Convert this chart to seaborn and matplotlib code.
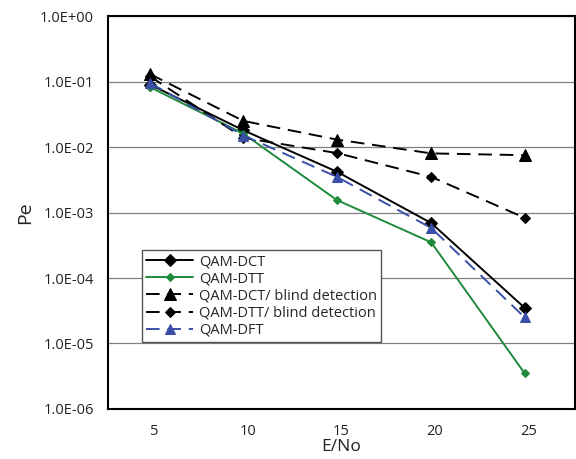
import seaborn as sns
import pandas as pd
import matplotlib.pyplot as plt
from matplotlib.ticker import FixedLocator, NullLocator

sns.set_style('white')
plt.rcParams['font.family'] = ['Open Sans', 'DejaVu Sans']

# E/No points (Excel scatter, slightly left of the ticks)
e_no = [4.75, 9.75, 14.75, 19.8, 24.8]

qam_dct = [0.09, 0.018, 0.0042, 0.00069, 3.5e-5]
qam_dtt = [0.082, 0.016, 0.00155, 0.00035, 3.5e-6]
qam_dct_blind = [0.13, 0.025, 0.013, 0.008, 0.0075]
qam_dtt_blind = [0.12, 0.0138, 0.0081, 0.0035, 0.00083]
qam_dft = [0.095, 0.015, 0.0035, 0.00058, 2.5e-5]

y_ticks = [1e0, 1e-1, 1e-2, 1e-3, 1e-4, 1e-5, 1e-6]
y_labels = ['1.0E+00', '1.0E-01', '1.0E-02', '1.0E-03', '1.0E-04', '1.0E-05', '1.0E-06']
x_ticks = [5, 10, 15, 20, 25]

fig = plt.figure(figsize=(5.76, 4.59), dpi=100)
ax = fig.add_axes([0.1875, 0.109, 0.811, 0.856])

dash = (0, (7, 4))
series = [
    ('QAM-DCT', qam_dct, 'black', '-', 'D', 6),
    ('QAM-DTT', qam_dtt, '#1e8a3a', '-', 'D', 4.5),
    ('QAM-DCT/ blind detection', qam_dct_blind, 'black', dash, '^', 8),
    ('QAM-DTT/ blind detection', qam_dtt_blind, 'black', dash, 'D', 5),
    ('QAM-DFT', qam_dft, '#3a4fa8', dash, '^', 7),
]

for name, vals, color, ls, mk, ms in series:
    df = pd.DataFrame({'E/No': e_no, 'Pe': vals})
    sns.lineplot(data=df, x='E/No', y='Pe', ax=ax, color=color,
                 linestyle=ls, marker=mk, markersize=ms, linewidth=1.4,
                 markeredgecolor=color, label=name)

ax.set_yscale('log')
ax.set_ylim(1e-6, 1e0)
ax.set_xlim(2.5, 27.5)
ax.yaxis.set_major_locator(FixedLocator(y_ticks))
ax.yaxis.set_minor_locator(NullLocator())
ax.set_yticks(y_ticks, y_labels)
ax.set_xticks(x_ticks)
ax.grid(axis='y', color='#808080', linewidth=0.9)
ax.grid(axis='x', visible=False)

for side in ['left', 'bottom', 'top', 'right']:
    ax.spines[side].set_color('black')
    ax.spines[side].set_linewidth(1.5)

ax.tick_params(axis='both', which='major', direction='out', length=4,
               width=1, color='#444444', labelsize=10.5, labelcolor='#222222')
ax.tick_params(axis='x', pad=7)
ax.tick_params(axis='y', length=6, pad=4)

ax.set_xlabel('E/No', fontsize=12.5, color='#222222', labelpad=0)
ax.set_ylabel('Pe', fontsize=14, color='#222222', labelpad=4)

leg = ax.legend(loc='upper left', bbox_to_anchor=(0.073, 0.405),
                fontsize=10.5, frameon=True, fancybox=False,
                edgecolor='#555555', framealpha=1, borderpad=0.3,
                labelspacing=0.15, handlelength=3.2, handletextpad=0.4,
                borderaxespad=0)
leg.get_frame().set_linewidth(1)

fig.savefig('out.png', dpi=100)
